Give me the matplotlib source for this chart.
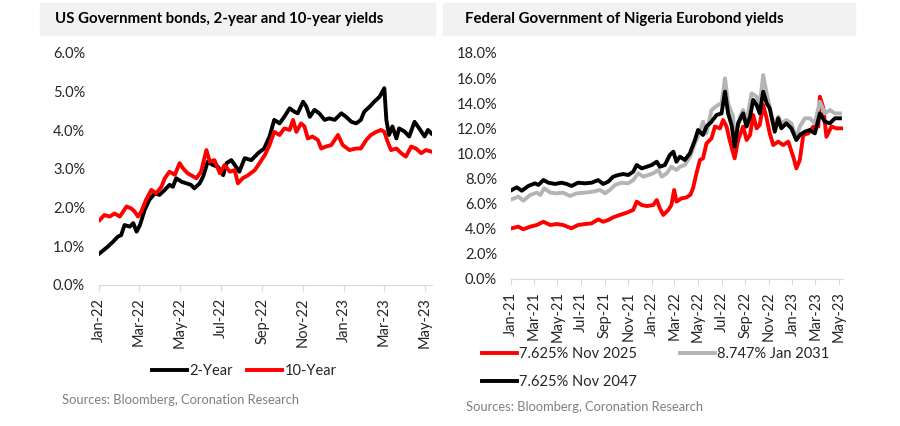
import pandas as pd
import matplotlib
matplotlib.use("Agg")
import matplotlib.pyplot as plt
import matplotlib.dates as mdates
from matplotlib.patches import Rectangle
from matplotlib.ticker import FuncFormatter

plt.rcParams['font.family'] = ['Lato', 'DejaVu Sans']

# --------------------------
# Data: US Treasury yields (%), x = days since 2022-01-01
# --------------------------
us_2y_day = [1, 13, 21, 28, 33, 38, 46, 51, 56, 61, 68, 75, 83, 90, 98, 105, 110,
             115, 123, 130, 137, 142, 150, 155, 162, 170, 177, 185, 190, 197, 204,
             209, 217, 227, 237, 246, 254, 261, 269, 276, 284, 291, 296, 304, 309,
             314, 321, 328, 336, 343, 351, 361, 368, 376, 383, 390, 395, 403, 410,
             418, 425, 428, 432, 437, 443, 447, 455, 462, 470, 477, 485, 490, 495]
us_2y = [0.82, 0.99, 1.12, 1.25, 1.29, 1.55, 1.51, 1.60, 1.38, 1.55, 1.94, 2.20,
         2.37, 2.33, 2.46, 2.59, 2.54, 2.76, 2.67, 2.63, 2.59, 2.50, 2.63, 2.80,
         3.19, 3.10, 3.06, 2.84, 3.15, 3.23, 3.06, 2.93, 3.28, 3.23, 3.41, 3.53,
         3.84, 4.27, 4.18, 4.35, 4.57, 4.48, 4.44, 4.74, 4.61, 4.35, 4.53, 4.44,
         4.27, 4.31, 4.27, 4.44, 4.35, 4.22, 4.18, 4.27, 4.48, 4.61, 4.74, 4.87,
         5.09, 4.27, 3.88, 4.10, 3.79, 4.05, 3.97, 3.84, 4.22, 4.05, 3.84, 4.01, 3.92]

us_10y_day = [1, 8, 16, 23, 31, 41, 48, 53, 58, 63, 70, 78, 85, 93, 98, 105, 113,
              120, 125, 132, 137, 145, 152, 160, 165, 172, 180, 187, 195, 202, 207,
              214, 222, 232, 239, 247, 254, 261, 269, 276, 284, 289, 294, 301, 306,
              311, 318, 326, 331, 338, 346, 356, 363, 373, 383, 390, 398, 405, 413,
              420, 425, 430, 435, 443, 450, 457, 465, 472, 480, 487, 495]
us_10y = [1.68, 1.81, 1.77, 1.85, 1.77, 2.03, 1.98, 1.90, 1.77, 1.90, 2.20, 2.46,
          2.37, 2.54, 2.76, 2.93, 2.85, 3.15, 3.02, 2.89, 2.84, 2.76, 2.93, 3.49,
          3.19, 3.23, 2.89, 3.10, 2.93, 2.97, 2.63, 2.76, 2.84, 2.97, 3.15, 3.36,
          3.62, 3.96, 3.88, 4.05, 4.01, 4.27, 3.96, 4.18, 4.10, 3.79, 3.84, 3.75,
          3.53, 3.58, 3.62, 3.88, 3.62, 3.49, 3.53, 3.53, 3.75, 3.88, 3.96, 4.01,
          3.96, 3.70, 3.49, 3.53, 3.41, 3.32, 3.58, 3.53, 3.41, 3.49, 3.45]

# --------------------------
# Data: FGN Eurobond yields (%), x = days since 2021-01-01
# --------------------------
nov25_day = [2, 19, 32, 50, 67, 84, 102, 118, 135, 157, 174, 192, 209, 226, 239,
             252, 265, 282, 300, 317, 326, 339, 352, 369, 378, 386, 395, 408, 416,
             423, 429, 442, 455, 465, 472, 481, 490, 498, 507, 520, 529, 542, 550,
             559, 567, 580, 589, 602, 611, 620, 628, 637, 645, 654, 663, 671, 680,
             693, 706, 719, 732, 740, 749, 758, 771, 784, 797, 801, 810, 818, 831,
             844, 857]
nov_2025 = [4.04, 4.17, 3.96, 4.17, 4.30, 4.56, 4.30, 4.38, 4.30, 4.04, 4.30, 4.38,
            4.43, 4.75, 4.56, 4.70, 4.91, 5.10, 5.28, 5.50, 6.16, 5.89, 5.81, 5.89,
            6.29, 5.63, 5.10, 5.50, 5.89, 7.09, 6.16, 6.42, 6.50, 6.70, 7.22, 8.42,
            9.48, 9.61, 10.80, 11.20, 12.14, 12.00, 12.66, 12.14, 11.07, 9.61, 11.07,
            12.14, 11.07, 11.47, 13.06, 12.00, 12.27, 13.86, 12.80, 11.60, 10.67,
            10.94, 10.67, 10.94, 9.74, 8.81, 9.48, 11.47, 11.60, 12.14, 12.14, 14.52,
            13.60, 11.33, 12.14, 12.00, 12.00]

jan31_day = [2, 19, 32, 50, 67, 76, 86, 102, 118, 135, 153, 170, 192, 213, 231,
             244, 256, 270, 287, 304, 317, 330, 343, 356, 369, 382, 391, 404, 416,
             429, 438, 451, 464, 477, 490, 498, 507, 520, 537, 546, 555, 563, 576,
             580, 594, 602, 611, 624, 637, 645, 654, 663, 676, 684, 693, 701, 714,
             727, 740, 749, 762, 775, 788, 801, 814, 827, 840, 853]
jan_2031 = [6.35, 6.56, 6.24, 6.69, 6.88, 6.69, 7.22, 6.88, 6.82, 6.88, 6.61, 6.82,
            6.88, 6.96, 7.09, 6.82, 7.09, 7.49, 7.67, 7.62, 7.88, 8.42, 8.15, 8.28,
            8.42, 8.68, 8.15, 8.42, 8.94, 8.68, 8.94, 9.08, 9.74, 10.80, 11.73, 12.53,
            11.60, 13.46, 13.86, 13.99, 15.98, 13.99, 12.93, 11.07, 12.93, 13.46,
            12.53, 14.79, 14.52, 13.86, 16.25, 14.79, 12.93, 12.27, 12.93, 12.40,
            12.66, 12.40, 11.20, 12.14, 12.80, 12.80, 12.40, 14.12, 13.19, 13.46,
            13.19, 13.19]

nov47_day = [2, 15, 28, 45, 62, 71, 84, 97, 114, 131, 144, 157, 174, 192, 209, 226,
             239, 252, 265, 278, 291, 304, 317, 326, 339, 352, 365, 378, 386, 399,
             412, 421, 429, 438, 451, 464, 477, 485, 498, 507, 520, 533, 546, 555,
             563, 572, 580, 589, 602, 611, 620, 628, 637, 645, 654, 663, 671, 684,
             693, 701, 714, 727, 740, 749, 762, 775, 788, 801, 814, 827, 840, 853]
nov_2047 = [7.09, 7.30, 7.03, 7.41, 7.62, 7.49, 7.88, 7.67, 7.57, 7.67, 7.57, 7.41,
            7.67, 7.62, 7.67, 7.88, 7.57, 7.75, 8.15, 8.28, 8.36, 8.28, 8.55, 9.08,
            8.81, 8.94, 9.08, 9.34, 8.94, 9.08, 9.88, 10.14, 9.34, 9.74, 9.48, 10.01,
            11.07, 11.87, 11.47, 12.14, 12.53, 13.06, 13.19, 14.92, 13.19, 12.27,
            10.54, 12.40, 13.19, 12.14, 12.93, 14.26, 13.86, 13.19, 14.92, 14.00,
            13.60, 11.73, 12.80, 12.00, 12.40, 12.00, 11.07, 11.47, 11.73, 11.87,
            11.60, 13.19, 12.53, 12.40, 12.80, 12.80]


def to_dates(base, days):
    return pd.Timestamp(base) + pd.to_timedelta(days, unit='D')


RED = '#ff0000'
GREY = '#b4b4b4'
TXT = '#262626'
LW = 2.8

fig = plt.figure(figsize=(9, 4.26), dpi=100)

# title bars
for x0, x1, title, tx in [(40, 435, "US Government bonds, 2-year and 10-year yields", 55),
                          (443, 855, "Federal Government of Nigeria Eurobond yields", 465)]:
    fig.patches.append(Rectangle((x0 / 900, 1 - 35 / 426), (x1 - x0) / 900, 32 / 426,
                                 transform=fig.transFigure, color='#f2f2f2', zorder=0))
    fig.text(tx / 900, 1 - 19 / 426, title, fontsize=10.8, fontweight='bold',
             color='black', va='center', ha='left')


def style_axis(ax):
    for s in ['top', 'right', 'left']:
        ax.spines[s].set_visible(False)
    ax.spines['bottom'].set_color('#d9d9d9')
    ax.xaxis.set_major_locator(mdates.MonthLocator(bymonth=[1, 3, 5, 7, 9, 11]))
    ax.xaxis.set_major_formatter(mdates.DateFormatter('%b-%y'))
    ax.tick_params(axis='x', rotation=90, length=4, color='#d9d9d9',
                   labelsize=10.5, labelcolor=TXT, pad=5)
    ax.tick_params(axis='y', length=0, labelsize=10.5, labelcolor=TXT, pad=10)
    ax.yaxis.set_major_formatter(FuncFormatter(lambda v, p: f"{v:.1f}%"))


# --------------------------
# Left: US yields
# --------------------------
ax1 = fig.add_axes([99 / 900, 1 - 285 / 426, (432 - 99) / 900, (285 - 53) / 426])
l2, = ax1.plot(to_dates("2022-01-01", us_2y_day), us_2y, color='black', lw=LW,
               label='2-Year')
l10, = ax1.plot(to_dates("2022-01-01", us_10y_day), us_10y, color=RED, lw=LW,
                label='10-Year')
ax1.set_ylim(0, 6)
ax1.set_yticks([0, 1, 2, 3, 4, 5, 6])
ax1.set_xlim(pd.Timestamp("2022-01-01"), pd.Timestamp("2023-05-12"))
style_axis(ax1)
ax1.legend(handles=[l2, l10], ncol=2, frameon=False, fontsize=10.5,
           loc='center left', bbox_to_anchor=(152 / 900, 1 - 371 / 426),
           bbox_transform=fig.transFigure, borderpad=0, borderaxespad=0,
           handlelength=2.4, handletextpad=0.15, columnspacing=1.0,
           labelcolor=TXT)

# --------------------------
# Right: Nigeria Eurobonds
# --------------------------
ax2 = fig.add_axes([511 / 900, 1 - 279 / 426, (843 - 511) / 900, (279 - 53) / 426])
r1, = ax2.plot(to_dates("2021-01-01", nov25_day), nov_2025, color=RED, lw=LW,
               label='7.625% Nov 2025')
r2, = ax2.plot(to_dates("2021-01-01", jan31_day), jan_2031, color=GREY, lw=LW,
               label='8.747% Jan 2031')
r3, = ax2.plot(to_dates("2021-01-01", nov47_day), nov_2047, color='black', lw=LW,
               label='7.625% Nov 2047')
ax2.set_ylim(0, 18)
ax2.set_yticks(range(0, 19, 2))
ax2.set_xlim(pd.Timestamp("2021-01-01"), pd.Timestamp("2023-05-12"))
style_axis(ax2)
ax2.legend(handles=[r1, r3, r2], ncol=2, frameon=False, fontsize=10.5,
           loc='upper left', bbox_to_anchor=(482 / 900, 1 - 347 / 426),
           bbox_transform=fig.transFigure, borderpad=0, borderaxespad=0,
           handlelength=2.4, handletextpad=0.15, columnspacing=2.95,
           labelspacing=0.95, labelcolor=TXT)

# sources
fig.text(62 / 900, 1 - 400 / 426, "Sources: Bloomberg, Coronation Research",
         fontsize=9.3, color='#7f7f7f', va='center', ha='left')
fig.text(466 / 900, 1 - 407 / 426, "Sources: Bloomberg, Coronation Research",
         fontsize=9.3, color='#7f7f7f', va='center', ha='left')

fig.savefig("out.png", dpi=100)
